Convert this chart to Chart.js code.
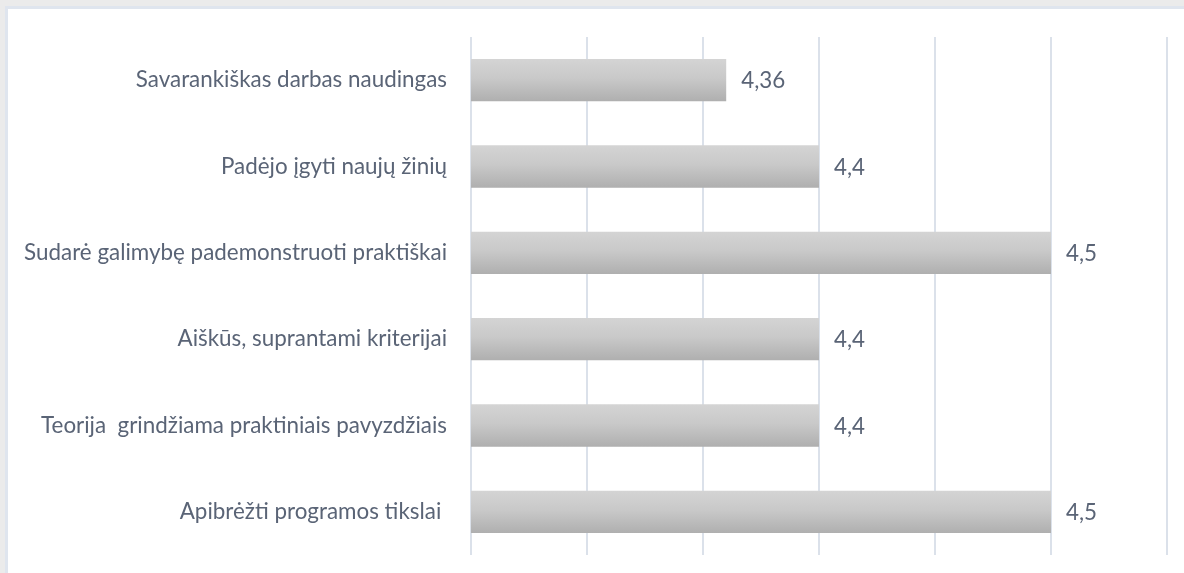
<!DOCTYPE html>
<html>
<head>
<meta charset="utf-8">
<script src="https://cdn.jsdelivr.net/npm/chart.js@4"></script>
<style>
  html, body { margin: 0; padding: 0; background: #ebebeb; overflow: hidden; }
  #frame { position: absolute; left: 5px; top: 6px; width: 1200px; height: 600px;
           background: #fff; border-left: 3px solid #dfe5ee; border-top: 3px solid #dfe5ee; }
  #wrap { position: absolute; left: 0; top: 0; width: 1184px; height: 573px; }
</style>
</head>
<body>
<div id="frame"></div>
<div id="wrap"><canvas id="bars" width="1184" height="573"></canvas></div>
<script>
// categories, top to bottom
var labels = [
  'Savarankiškas darbas naudingas',
  'Padėjo įgyti naujų žinių',
  'Sudarė galimybę pademonstruoti praktiškai',
  'Aiškūs, suprantami kriterijai',
  'Teorija  grindžiama praktiniais pavyzdžiais',
  'Apibrėžti programos tikslai '
];
var scores = [4.36, 4.4, 4.5, 4.4, 4.4, 4.5];
var axisMin = 4.25, axisMax = 4.55, axisStep = 0.05;

var textColor = '#5a6476';
var barShare = 0.49;
var fontSize = 22.4;

// grey bar with vertical gradient, made per bar from the category scale
function barFill(context) {
  var chart = context.chart;
  var y = chart.scales.y;
  if (!chart.chartArea || !y || context.dataIndex == null) {
    return '#c4c4c4';
  }
  var cy = y.getPixelForValue(context.dataIndex);
  var h = (chart.chartArea.bottom - chart.chartArea.top) / labels.length * barShare;
  if (isNaN(cy)) {
    return '#c4c4c4';
  }
  var g = chart.ctx.createLinearGradient(0, cy - h / 2, 0, cy + h / 2);
  g.addColorStop(0, '#d4d4d4');
  g.addColorStop(0.45, '#c9c9c9');
  g.addColorStop(1, '#afafaf');
  return g;
}

// value labels right of each bar, with decimal comma
var valueLabels = {
  id: 'valueLabels',
  afterDatasetsDraw: function(chart) {
    var ctx = chart.ctx;
    var meta = chart.getDatasetMeta(0);
    ctx.save();
    ctx.font = fontSize + 'px Lato, "Open Sans", sans-serif';
    ctx.fillStyle = textColor;
    ctx.textBaseline = 'middle';
    ctx.textAlign = 'left';
    meta.data.forEach(function(bar, i) {
      ctx.fillText(String(scores[i]).replace('.', ','), bar.x + 15, bar.y + 1);
    });
    ctx.restore();
  }
};

// stop the vertical grid where the last category ends
var gridClip = {
  id: 'gridClip',
  beforeDraw: function(chart) {
    var y = chart.scales.y;
    var n = labels.length;
    var last = y.getPixelForValue(n - 1);
    var end = last + (last - y.getPixelForValue(n - 2)) / 2;
    var ctx = chart.ctx;
    ctx.save();
    ctx.beginPath();
    ctx.rect(0, 0, chart.width, end);
    ctx.clip();
  },
  afterDraw: function(chart) {
    chart.ctx.restore();
  }
};

Chart.defaults.font.family = 'Lato, "Open Sans", sans-serif';
Chart.defaults.font.size = fontSize;
Chart.defaults.color = textColor;

new Chart(document.getElementById('bars').getContext('2d'), {
  type: 'bar',
  data: {
    labels: labels,
    datasets: [{
      data: scores,
      backgroundColor: barFill,
      borderWidth: 0,
      categoryPercentage: 1,
      barPercentage: barShare
    }]
  },
  options: {
    indexAxis: 'y',
    responsive: false,
    animation: false,
    devicePixelRatio: 1,
    layout: { padding: { top: 37, right: 17, bottom: 18, left: 0 } },
    plugins: {
      legend: { display: false },
      tooltip: { enabled: false }
    },
    scales: {
      x: {
        min: axisMin,
        max: axisMax,
        ticks: { display: false, stepSize: axisStep },
        grid: { color: '#dbe1ea', lineWidth: 2, drawTicks: false },
        border: { display: false }
      },
      y: {
        // small tick padding so it does not add to the vertical inset;
        // the gap to the bars comes from the (hidden) tick length
        ticks: { padding: 4, color: textColor },
        grid: { display: false, drawTicks: true, tickLength: 20 },
        border: { display: false },
        afterFit: function(scale) { scale.width = 471; }
      }
    }
  },
  plugins: [valueLabels, gridClip]
});
</script>
</body>
</html>
